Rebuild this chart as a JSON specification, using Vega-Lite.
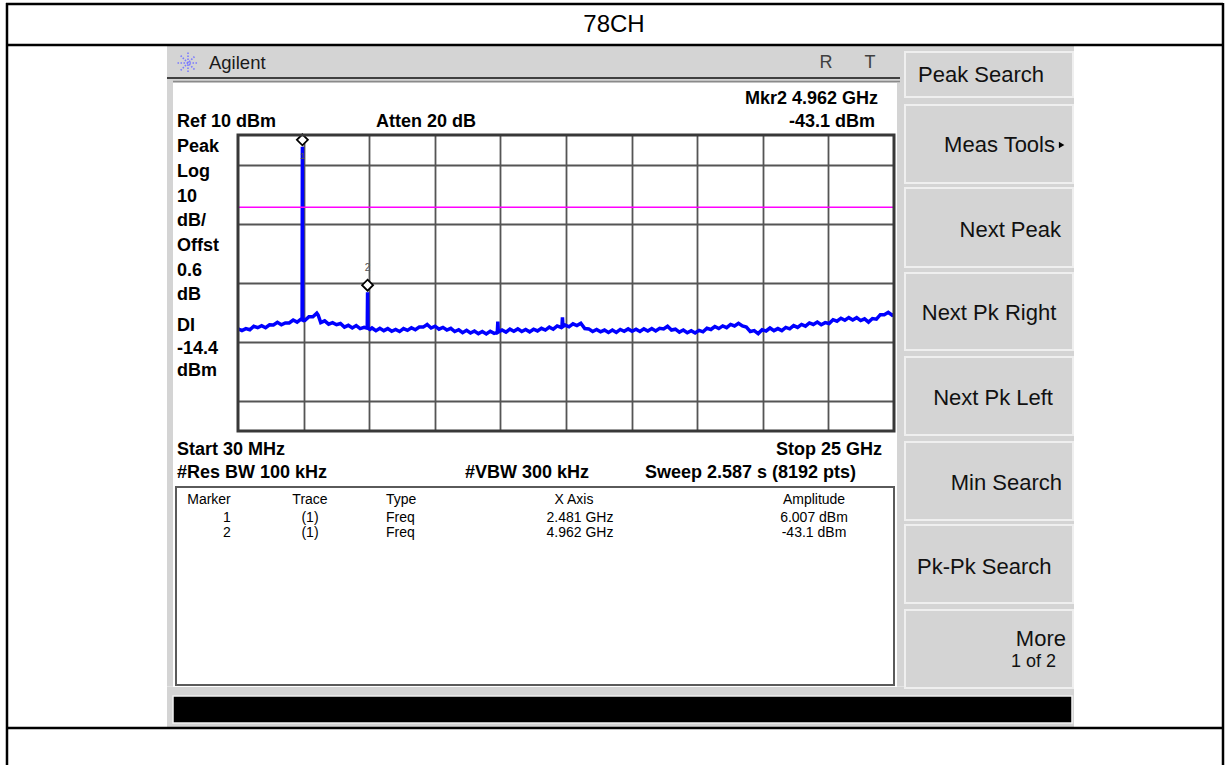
{
"$schema": "https://vega.github.io/schema/vega-lite/v6.json",
"width": 656, "height": 296,
"autosize": {"type": "none"},
"padding": {"left": 238, "top": 135, "right": 335, "bottom": 334},
"background": "#ffffff",
"config": {"view": {"stroke": null, "fill": "#ffffff"}, "font": "Liberation Sans", "axis": {"labels": false, "ticks": false, "domain": false, "grid": false}},
"data": {"values": [{"k": 1}]},
"datasets": {
"trace": [
{"f":0.03,"dbm":-55.5},{"f":0.18,"dbm":-56.1},{"f":0.33,"dbm":-55.4},{"f":0.48,"dbm":-55.8},{"f":0.63,"dbm":-54.6},{"f":0.78,"dbm":-55.1},{"f":0.93,"dbm":-54.4},{"f":1.08,"dbm":-55.1},{"f":1.23,"dbm":-54.1},{"f":1.38,"dbm":-54.2},{"f":1.53,"dbm":-53.3},{"f":1.68,"dbm":-54.1},{"f":1.83,"dbm":-53.5},{"f":1.98,"dbm":-53.5},{"f":2.13,"dbm":-52.5},{"f":2.28,"dbm":-53.2},{"f":2.43,"dbm":-52.2},{"f":2.47,"dbm":-52.4},{"f":2.481,"dbm":6.007},{"f":2.492,"dbm":-52.4},{"f":2.58,"dbm":-52.6},{"f":2.73,"dbm":-51.4},{"f":2.88,"dbm":-51.4},{"f":3.03,"dbm":-50.2},{"f":3.08,"dbm":-50.8},{"f":3.18,"dbm":-53.4},{"f":3.33,"dbm":-52.8},{"f":3.48,"dbm":-53.9},{"f":3.63,"dbm":-53.4},{"f":3.78,"dbm":-54.1},{"f":3.93,"dbm":-53.7},{"f":4.08,"dbm":-54.9},{"f":4.23,"dbm":-54.3},{"f":4.38,"dbm":-55.2},{"f":4.53,"dbm":-54.4},{"f":4.68,"dbm":-55.4},{"f":4.83,"dbm":-55.0},{"f":4.95,"dbm":-55.3},{"f":4.962,"dbm":-43.1},{"f":4.974,"dbm":-55.3},{"f":5.05,"dbm":-55.7},{"f":5.13,"dbm":-55.2},{"f":5.28,"dbm":-56.1},{"f":5.43,"dbm":-55.3},{"f":5.58,"dbm":-56.1},{"f":5.73,"dbm":-55.4},{"f":5.88,"dbm":-56.3},{"f":6.03,"dbm":-55.7},{"f":6.18,"dbm":-56.4},{"f":6.33,"dbm":-55.4},{"f":6.48,"dbm":-56.0},{"f":6.63,"dbm":-55.1},{"f":6.78,"dbm":-55.8},{"f":6.93,"dbm":-54.9},{"f":7.08,"dbm":-54.9},{"f":7.23,"dbm":-54.0},{"f":7.38,"dbm":-55.2},{"f":7.53,"dbm":-54.6},{"f":7.68,"dbm":-55.6},{"f":7.83,"dbm":-55.0},{"f":7.98,"dbm":-55.9},{"f":8.13,"dbm":-55.3},{"f":8.28,"dbm":-56.4},{"f":8.43,"dbm":-55.8},{"f":8.58,"dbm":-56.8},{"f":8.73,"dbm":-56.0},{"f":8.88,"dbm":-56.9},{"f":9.03,"dbm":-56.2},{"f":9.18,"dbm":-57.1},{"f":9.33,"dbm":-56.4},{"f":9.48,"dbm":-57.2},{"f":9.63,"dbm":-56.3},{"f":9.78,"dbm":-57.0},{"f":9.9,"dbm":-56.7},{"f":9.92,"dbm":-53.0},{"f":9.94,"dbm":-56.6},{"f":10.08,"dbm":-55.9},{"f":10.23,"dbm":-56.6},{"f":10.38,"dbm":-55.6},{"f":10.53,"dbm":-56.3},{"f":10.68,"dbm":-55.5},{"f":10.83,"dbm":-56.4},{"f":10.98,"dbm":-55.7},{"f":11.13,"dbm":-56.5},{"f":11.28,"dbm":-55.6},{"f":11.43,"dbm":-56.2},{"f":11.58,"dbm":-55.3},{"f":11.73,"dbm":-55.9},{"f":11.88,"dbm":-54.9},{"f":12.03,"dbm":-55.6},{"f":12.18,"dbm":-54.5},{"f":12.33,"dbm":-55.0},{"f":12.36,"dbm":-54.8},{"f":12.38,"dbm":-51.6},{"f":12.4,"dbm":-54.7},{"f":12.48,"dbm":-54.2},{"f":12.63,"dbm":-54.8},{"f":12.78,"dbm":-53.8},{"f":12.93,"dbm":-54.4},{"f":13.08,"dbm":-53.6},{"f":13.23,"dbm":-55.4},{"f":13.38,"dbm":-55.5},{"f":13.53,"dbm":-56.4},{"f":13.68,"dbm":-55.7},{"f":13.83,"dbm":-56.5},{"f":13.98,"dbm":-55.9},{"f":14.13,"dbm":-56.7},{"f":14.28,"dbm":-55.9},{"f":14.43,"dbm":-56.7},{"f":14.58,"dbm":-55.7},{"f":14.73,"dbm":-56.3},{"f":14.88,"dbm":-55.5},{"f":15.03,"dbm":-56.3},{"f":15.18,"dbm":-55.6},{"f":15.33,"dbm":-56.4},{"f":15.48,"dbm":-55.5},{"f":15.63,"dbm":-56.2},{"f":15.78,"dbm":-55.4},{"f":15.93,"dbm":-56.2},{"f":16.08,"dbm":-55.3},{"f":16.23,"dbm":-55.5},{"f":16.38,"dbm":-54.6},{"f":16.53,"dbm":-55.9},{"f":16.68,"dbm":-55.6},{"f":16.83,"dbm":-56.6},{"f":16.98,"dbm":-55.9},{"f":17.13,"dbm":-56.8},{"f":17.28,"dbm":-56.1},{"f":17.43,"dbm":-56.9},{"f":17.58,"dbm":-56.0},{"f":17.73,"dbm":-56.5},{"f":17.88,"dbm":-55.3},{"f":18.03,"dbm":-55.7},{"f":18.18,"dbm":-54.7},{"f":18.33,"dbm":-55.4},{"f":18.48,"dbm":-54.5},{"f":18.63,"dbm":-55.1},{"f":18.78,"dbm":-54.0},{"f":18.93,"dbm":-54.5},{"f":19.08,"dbm":-53.6},{"f":19.23,"dbm":-54.5},{"f":19.38,"dbm":-54.9},{"f":19.53,"dbm":-56.4},{"f":19.68,"dbm":-56.1},{"f":19.83,"dbm":-57.1},{"f":19.98,"dbm":-55.8},{"f":20.13,"dbm":-56.2},{"f":20.28,"dbm":-55.2},{"f":20.43,"dbm":-56.1},{"f":20.58,"dbm":-55.4},{"f":20.73,"dbm":-56.1},{"f":20.88,"dbm":-55.0},{"f":21.03,"dbm":-55.5},{"f":21.18,"dbm":-54.4},{"f":21.33,"dbm":-55.0},{"f":21.48,"dbm":-54.0},{"f":21.63,"dbm":-54.6},{"f":21.78,"dbm":-53.5},{"f":21.93,"dbm":-54.0},{"f":22.08,"dbm":-53.2},{"f":22.23,"dbm":-54.1},{"f":22.38,"dbm":-53.4},{"f":22.53,"dbm":-53.7},{"f":22.68,"dbm":-52.4},{"f":22.83,"dbm":-52.9},{"f":22.98,"dbm":-51.9},{"f":23.13,"dbm":-52.6},{"f":23.28,"dbm":-51.7},{"f":23.43,"dbm":-52.5},{"f":23.58,"dbm":-51.7},{"f":23.73,"dbm":-52.7},{"f":23.88,"dbm":-52.1},{"f":24.03,"dbm":-53.2},{"f":24.18,"dbm":-52.0},{"f":24.33,"dbm":-52.2},{"f":24.48,"dbm":-50.7},{"f":24.63,"dbm":-50.7},{"f":24.78,"dbm":-49.9},{"f":24.93,"dbm":-50.9},{"f":25.0,"dbm":-50.6}
],
"markers": [
{"marker": 1, "trace": "(1)", "type": "Freq", "freq": 2.481, "amp": 6.007, "xaxis": "2.481 GHz", "amplitude": "6.007 dBm"},
{"marker": 2, "trace": "(1)", "type": "Freq", "freq": 4.962, "amp": -43.1, "xaxis": "4.962 GHz", "amplitude": "-43.1 dBm"}
]
},
"layer": [
{"mark": {"type": "rect", "color": "#d4d4d4"}, "encoding": {"x": {"datum": -2.673}, "x2": {"datum": 31.851}, "y": {"datum": 40.068}, "y2": {"datum": 27.4}}},
{"mark": {"type": "rect", "color": "#d4d4d4"}, "encoding": {"x": {"datum": -2.673}, "x2": {"datum": -2.40}, "y": {"datum": 27.6}, "y2": {"datum": -176.3}}},
{"mark": {"type": "rect", "color": "#d4d4d4"}, "encoding": {"x": {"datum": 25.08}, "x2": {"datum": 31.851}, "y": {"datum": 27.6}, "y2": {"datum": -176.3}}},
{"mark": {"type": "rect", "color": "#d4d4d4"}, "encoding": {"x": {"datum": -2.673}, "x2": {"datum": 31.851}, "y": {"datum": -176.4}, "y2": {"datum": -190.0}}},
{"mark": {"type": "rect", "color": "#ffffff"}, "encoding": {"x": {"datum": -2.444}, "x2": {"datum": 25.114}, "y": {"datum": 27.568}, "y2": {"datum": 9.8}}},
{"mark": {"type": "rect", "color": "#ffffff"}, "encoding": {"x": {"datum": -2.444}, "x2": {"datum": 0.06}, "y": {"datum": 10}, "y2": {"datum": -90}}},
{"mark": {"type": "rect", "color": "#ffffff"}, "encoding": {"x": {"datum": 24.97}, "x2": {"datum": 25.114}, "y": {"datum": 10}, "y2": {"datum": -90}}},
{"mark": {"type": "rect", "color": "#ffffff"}, "encoding": {"x": {"datum": -2.444}, "x2": {"datum": 25.114}, "y": {"datum": -89.8}, "y2": {"datum": -176.49}}},
{"mark": {"type": "rect", "fill": "#ffffff", "stroke": "#5a5a5a", "strokeWidth": 2}, "encoding": {"x": {"datum": -2.33}, "x2": {"datum": 25.0}, "y": {"datum": -108.92}, "y2": {"datum": -175.81}}},
{"mark": {"type": "rule", "color": "#404040", "strokeWidth": 2}, "encoding": {"x": {"datum": -2.673}, "x2": {"datum": 25.228}, "y": {"datum": 29.26}}},
{"mark": {"type": "rule", "color": "#8a8a8a", "strokeWidth": 1.5}, "encoding": {"x": {"datum": -2.444}, "x2": {"datum": 25.228}, "y": {"datum": 28.1}}},
{"mark": {"type": "rect", "fill": "#d4d4d4", "stroke": "#efefef", "strokeWidth": 2}, "encoding": {"x": {"datum": 25.419}, "x2": {"datum": 31.813}, "y": {"datum": 38.04}, "y2": {"datum": 22.84}}},
{"mark": {"type": "rect", "fill": "#d4d4d4", "stroke": "#efefef", "strokeWidth": 2}, "encoding": {"x": {"datum": 25.419}, "x2": {"datum": 31.813}, "y": {"datum": 20.14}, "y2": {"datum": -6.22}}},
{"mark": {"type": "rect", "fill": "#d4d4d4", "stroke": "#efefef", "strokeWidth": 2}, "encoding": {"x": {"datum": 25.419}, "x2": {"datum": 31.813}, "y": {"datum": -7.91}, "y2": {"datum": -34.59}}},
{"mark": {"type": "rect", "fill": "#d4d4d4", "stroke": "#efefef", "strokeWidth": 2}, "encoding": {"x": {"datum": 25.419}, "x2": {"datum": 31.813}, "y": {"datum": -36.62}, "y2": {"datum": -62.64}}},
{"mark": {"type": "rect", "fill": "#d4d4d4", "stroke": "#efefef", "strokeWidth": 2}, "encoding": {"x": {"datum": 25.419}, "x2": {"datum": 31.813}, "y": {"datum": -65.0}, "y2": {"datum": -91.35}}},
{"mark": {"type": "rect", "fill": "#d4d4d4", "stroke": "#efefef", "strokeWidth": 2}, "encoding": {"x": {"datum": 25.419}, "x2": {"datum": 31.813}, "y": {"datum": -93.72}, "y2": {"datum": -120.07}}},
{"mark": {"type": "rect", "fill": "#d4d4d4", "stroke": "#efefef", "strokeWidth": 2}, "encoding": {"x": {"datum": 25.419}, "x2": {"datum": 31.813}, "y": {"datum": -121.76}, "y2": {"datum": -148.11}}},
{"mark": {"type": "rect", "fill": "#d4d4d4", "stroke": "#efefef", "strokeWidth": 2}, "encoding": {"x": {"datum": 25.419}, "x2": {"datum": 31.813}, "y": {"datum": -150.47}, "y2": {"datum": -176.82}}},
{"mark": {"type": "rect", "fill": "#000000", "stroke": "#f0f0f0", "strokeWidth": 1.5}, "encoding": {"x": {"datum": -2.444}, "x2": {"datum": 31.775}, "y": {"datum": -179.53}, "y2": {"datum": -188.65}}},
{"mark": {"type": "rule", "color": "#000000", "strokeWidth": 2.5}, "encoding": {"x": {"datum": -8.801}, "x2": {"datum": 37.523}, "y": {"datum": 54.26}}},
{"mark": {"type": "rule", "color": "#000000", "strokeWidth": 2.5}, "encoding": {"x": {"datum": -8.801}, "x2": {"datum": 37.523}, "y": {"datum": 40.405}}},
{"mark": {"type": "rule", "color": "#000000", "strokeWidth": 2.5}, "encoding": {"x": {"datum": -8.801}, "x2": {"datum": 37.523}, "y": {"datum": -190.34}}},
{"mark": {"type": "rule", "color": "#000000", "strokeWidth": 2.5}, "encoding": {"x": {"datum": -8.763}, "y": {"datum": 54.6}, "y2": {"datum": -202.84}}},
{"mark": {"type": "rule", "color": "#000000", "strokeWidth": 2.5}, "encoding": {"x": {"datum": 37.523}, "y": {"datum": 54.6}, "y2": {"datum": -202.84}}},
{"mark": {"type": "text", "text": "78CH", "align": "center", "baseline": "middle", "fontSize": 24, "color": "#000000"}, "encoding": {"x": {"datum": 14.342}, "y": {"datum": 47.16}}},
{"mark": {"type": "point", "shape": "M-1,0L1,0M0,-1L0,1M-0.7,-0.7L0.7,0.7M-0.7,0.7L0.7,-0.7", "size": 440, "filled": false, "color": "#7a7aff", "strokeWidth": 1.6, "strokeDash": [1.5, 1.5], "opacity": 1}, "encoding": {"x": {"datum": -1.873}, "y": {"datum": 34.32}}},
{"mark": {"type": "text", "text": "Agilent", "align": "left", "baseline": "middle", "fontSize": 18.5, "color": "#1a1a1a"}, "encoding": {"x": {"datum": -1.074}, "y": {"datum": 34.32}}},
{"mark": {"type": "text", "text": "R", "align": "center", "baseline": "middle", "fontSize": 18, "color": "#404040"}, "encoding": {"x": {"datum": 22.412}, "y": {"datum": 34.32}}},
{"mark": {"type": "text", "text": "T", "align": "center", "baseline": "middle", "fontSize": 18, "color": "#404040"}, "encoding": {"x": {"datum": 24.086}, "y": {"datum": 34.32}}},
{"mark": {"type": "text", "text": "Mkr2  4.962 GHz", "align": "right", "baseline": "middle", "fontSize": 18, "fontWeight": "bold", "color": "#000000"}, "encoding": {"x": {"datum": 24.391}, "y": {"datum": 22.16}}},
{"mark": {"type": "text", "text": "-43.1 dBm", "align": "right", "baseline": "middle", "fontSize": 18, "fontWeight": "bold", "color": "#000000"}, "encoding": {"x": {"datum": 24.277}, "y": {"datum": 14.39}}},
{"mark": {"type": "text", "text": "Ref 10 dBm", "align": "left", "baseline": "middle", "fontSize": 18, "fontWeight": "bold", "color": "#000000"}, "encoding": {"x": {"datum": -2.292}, "y": {"datum": 14.39}}},
{"mark": {"type": "text", "text": "Atten 20 dB", "align": "left", "baseline": "middle", "fontSize": 18, "fontWeight": "bold", "color": "#000000"}, "encoding": {"x": {"datum": 5.283}, "y": {"datum": 14.39}}},
{"mark": {"type": "text", "text": "Peak\nLog\n10\ndB/\nOffst\n0.6\ndB", "lineBreak": "\n", "lineHeight": 24.67, "align": "left", "baseline": "alphabetic", "fontSize": 18, "fontWeight": "bold", "color": "#000000"}, "encoding": {"x": {"datum": -2.292}, "y": {"datum": 4.12}}},
{"mark": {"type": "text", "text": "DI\n-14.4\ndBm", "lineBreak": "\n", "lineHeight": 22.5, "align": "left", "baseline": "alphabetic", "fontSize": 18, "fontWeight": "bold", "color": "#000000"}, "encoding": {"x": {"datum": -2.292}, "y": {"datum": -56.35}}},
{"mark": {"type": "text", "text": "Start 30 MHz", "align": "left", "baseline": "middle", "fontSize": 18, "fontWeight": "bold", "color": "#000000"}, "encoding": {"x": {"datum": -2.292}, "y": {"datum": -96.42}}},
{"mark": {"type": "text", "text": "Stop 25 GHz", "align": "right", "baseline": "middle", "fontSize": 18, "fontWeight": "bold", "color": "#000000"}, "encoding": {"x": {"datum": 24.543}, "y": {"datum": -96.42}}},
{"mark": {"type": "text", "text": "#Res BW 100 kHz", "align": "left", "baseline": "middle", "fontSize": 18, "fontWeight": "bold", "color": "#000000"}, "encoding": {"x": {"datum": -2.292}, "y": {"datum": -104.19}}},
{"mark": {"type": "text", "text": "#VBW 300 kHz", "align": "left", "baseline": "middle", "fontSize": 18, "fontWeight": "bold", "color": "#000000"}, "encoding": {"x": {"datum": 8.671}, "y": {"datum": -104.19}}},
{"mark": {"type": "text", "text": "Sweep 2.587 s (8192 pts)", "align": "left", "baseline": "middle", "fontSize": 18, "fontWeight": "bold", "color": "#000000"}, "encoding": {"x": {"datum": 15.522}, "y": {"datum": -104.19}}},
{"mark": {"type": "text", "text": "Marker", "align": "center", "baseline": "middle", "fontSize": 14, "color": "#000000"}, "encoding": {"x": {"datum": -1.074}, "y": {"datum": -113.31}}},
{"mark": {"type": "text", "text": "Trace", "align": "center", "baseline": "middle", "fontSize": 14, "color": "#000000"}, "encoding": {"x": {"datum": 2.771}, "y": {"datum": -113.31}}},
{"mark": {"type": "text", "text": "Type", "align": "left", "baseline": "middle", "fontSize": 14, "color": "#000000"}, "encoding": {"x": {"datum": 5.663}, "y": {"datum": -113.31}}},
{"mark": {"type": "text", "text": "X Axis", "align": "center", "baseline": "middle", "fontSize": 14, "color": "#000000"}, "encoding": {"x": {"datum": 12.819}, "y": {"datum": -113.31}}},
{"mark": {"type": "text", "text": "Amplitude", "align": "center", "baseline": "middle", "fontSize": 14, "color": "#000000"}, "encoding": {"x": {"datum": 21.955}, "y": {"datum": -113.31}}},
{"data": {"name": "markers"}, "transform": [{"filter": "datum.marker == 1"}], "mark": {"type": "text", "align": "center", "baseline": "middle", "fontSize": 14, "color": "#000000"}, "encoding": {"text": {"field": "marker"}, "x": {"datum": -0.389}, "y": {"datum": -119.39}}},
{"data": {"name": "markers"}, "transform": [{"filter": "datum.marker == 1"}], "mark": {"type": "text", "align": "center", "baseline": "middle", "fontSize": 14, "color": "#000000"}, "encoding": {"text": {"field": "trace"}, "x": {"datum": 2.771}, "y": {"datum": -119.39}}},
{"data": {"name": "markers"}, "transform": [{"filter": "datum.marker == 1"}], "mark": {"type": "text", "align": "left", "baseline": "middle", "fontSize": 14, "color": "#000000"}, "encoding": {"text": {"field": "type"}, "x": {"datum": 5.663}, "y": {"datum": -119.39}}},
{"data": {"name": "markers"}, "transform": [{"filter": "datum.marker == 1"}], "mark": {"type": "text", "align": "center", "baseline": "middle", "fontSize": 14, "color": "#000000"}, "encoding": {"text": {"field": "xaxis"}, "x": {"datum": 13.047}, "y": {"datum": -119.39}}},
{"data": {"name": "markers"}, "transform": [{"filter": "datum.marker == 1"}], "mark": {"type": "text", "align": "center", "baseline": "middle", "fontSize": 14, "color": "#000000"}, "encoding": {"text": {"field": "amplitude"}, "x": {"datum": 21.955}, "y": {"datum": -119.39}}},
{"data": {"name": "markers"}, "transform": [{"filter": "datum.marker == 2"}], "mark": {"type": "text", "align": "center", "baseline": "middle", "fontSize": 14, "color": "#000000"}, "encoding": {"text": {"field": "marker"}, "x": {"datum": -0.389}, "y": {"datum": -124.46}}},
{"data": {"name": "markers"}, "transform": [{"filter": "datum.marker == 2"}], "mark": {"type": "text", "align": "center", "baseline": "middle", "fontSize": 14, "color": "#000000"}, "encoding": {"text": {"field": "trace"}, "x": {"datum": 2.771}, "y": {"datum": -124.46}}},
{"data": {"name": "markers"}, "transform": [{"filter": "datum.marker == 2"}], "mark": {"type": "text", "align": "left", "baseline": "middle", "fontSize": 14, "color": "#000000"}, "encoding": {"text": {"field": "type"}, "x": {"datum": 5.663}, "y": {"datum": -124.46}}},
{"data": {"name": "markers"}, "transform": [{"filter": "datum.marker == 2"}], "mark": {"type": "text", "align": "center", "baseline": "middle", "fontSize": 14, "color": "#000000"}, "encoding": {"text": {"field": "xaxis"}, "x": {"datum": 13.047}, "y": {"datum": -124.46}}},
{"data": {"name": "markers"}, "transform": [{"filter": "datum.marker == 2"}], "mark": {"type": "text", "align": "center", "baseline": "middle", "fontSize": 14, "color": "#000000"}, "encoding": {"text": {"field": "amplitude"}, "x": {"datum": 21.955}, "y": {"datum": -124.46}}},
{"mark": {"type": "text", "text": "Peak Search", "align": "left", "baseline": "middle", "fontSize": 22, "color": "#111111"}, "encoding": {"x": {"datum": 25.914}, "y": {"datum": 30.27}}},
{"mark": {"type": "text", "text": "Meas Tools", "align": "right", "baseline": "middle", "fontSize": 22, "color": "#111111"}, "encoding": {"x": {"datum": 31.128}, "y": {"datum": 6.62}}},
{"mark": {"type": "point", "shape": "triangle-right", "size": 40, "filled": true, "color": "#000000", "opacity": 1}, "encoding": {"x": {"datum": 31.38}, "y": {"datum": 6.62}}},
{"mark": {"type": "text", "text": "Next Peak", "align": "right", "baseline": "middle", "fontSize": 22, "color": "#111111"}, "encoding": {"x": {"datum": 31.357}, "y": {"datum": -22.09}}},
{"mark": {"type": "text", "text": "Next Pk Right", "align": "center", "baseline": "middle", "fontSize": 22, "color": "#111111"}, "encoding": {"x": {"datum": 28.616}, "y": {"datum": -50.14}}},
{"mark": {"type": "text", "text": "Next Pk Left", "align": "right", "baseline": "middle", "fontSize": 22, "color": "#111111"}, "encoding": {"x": {"datum": 31.052}, "y": {"datum": -78.85}}},
{"mark": {"type": "text", "text": "Min Search", "align": "right", "baseline": "middle", "fontSize": 22, "color": "#111111"}, "encoding": {"x": {"datum": 31.395}, "y": {"datum": -107.47}}},
{"mark": {"type": "text", "text": "Pk-Pk Search", "align": "left", "baseline": "middle", "fontSize": 22, "color": "#111111"}, "encoding": {"x": {"datum": 25.876}, "y": {"datum": -135.85}}},
{"mark": {"type": "text", "text": "More", "align": "right", "baseline": "middle", "fontSize": 22, "color": "#111111"}, "encoding": {"x": {"datum": 31.547}, "y": {"datum": -160.27}}},
{"mark": {"type": "text", "text": "1 of 2", "align": "right", "baseline": "middle", "fontSize": 18, "color": "#111111"}, "encoding": {"x": {"datum": 31.166}, "y": {"datum": -168.04}}},
{"data": {"name": "trace"}, "mark": {"type": "line", "color": "#0000ff", "strokeWidth": 3.5, "strokeJoin": "miter"},
 "encoding": {
  "x": {"field": "f", "type": "quantitative", "scale": {"domain": [0.03, 25], "nice": false, "zero": false}, "axis": {"grid": true, "values": [2.527, 5.024, 7.521, 10.018, 12.515, 15.012, 17.509, 20.006, 22.503], "gridColor": "#555555", "gridWidth": 1.8, "gridOpacity": 1, "title": null, "labels": false, "ticks": false, "domain": false}},
  "y": {"field": "dbm", "type": "quantitative", "scale": {"domain": [-90, 10], "nice": false, "zero": false}, "axis": {"grid": true, "values": [-80, -70, -60, -50, -40, -30, -20, -10, 0], "gridColor": "#555555", "gridWidth": 1.8, "gridOpacity": 1, "title": null, "labels": false, "ticks": false, "domain": false}}
 }},
{"mark": {"type": "rule", "color": "#ff00ff", "strokeWidth": 1.5}, "encoding": {"x": {"datum": 0.03}, "x2": {"datum": 25}, "y": {"datum": -14.4}}},
{"data": {"name": "markers"}, "mark": {"type": "point", "shape": "M0,-1.25L0.55,-0.7L0,-0.15L-0.55,-0.7Z", "size": 400, "filled": true, "fill": "#ffffff", "stroke": "#000000", "strokeWidth": 1.8, "opacity": 1}, "encoding": {"x": {"field": "freq", "type": "quantitative"}, "y": {"field": "amp", "type": "quantitative"}}},
{"data": {"name": "markers"}, "transform": [{"filter": "datum.marker == 1"}], "mark": {"type": "text", "dy": 9, "fontSize": 9, "color": "#555555", "align": "center", "baseline": "middle"}, "encoding": {"text": {"field": "marker"}, "x": {"field": "freq", "type": "quantitative"}, "y": {"field": "amp", "type": "quantitative"}}},
{"data": {"name": "markers"}, "transform": [{"filter": "datum.marker == 2"}], "mark": {"type": "text", "dy": -24, "fontSize": 10, "color": "#555555", "align": "center", "baseline": "middle"}, "encoding": {"text": {"field": "marker"}, "x": {"field": "freq", "type": "quantitative"}, "y": {"field": "amp", "type": "quantitative"}}},
{"mark": {"type": "rect", "filled": false, "color": "#383838", "strokeWidth": 3}, "encoding": {"x": {"datum": 0.03}, "x2": {"datum": 25}, "y": {"datum": 10}, "y2": {"datum": -90}}}
]
}
